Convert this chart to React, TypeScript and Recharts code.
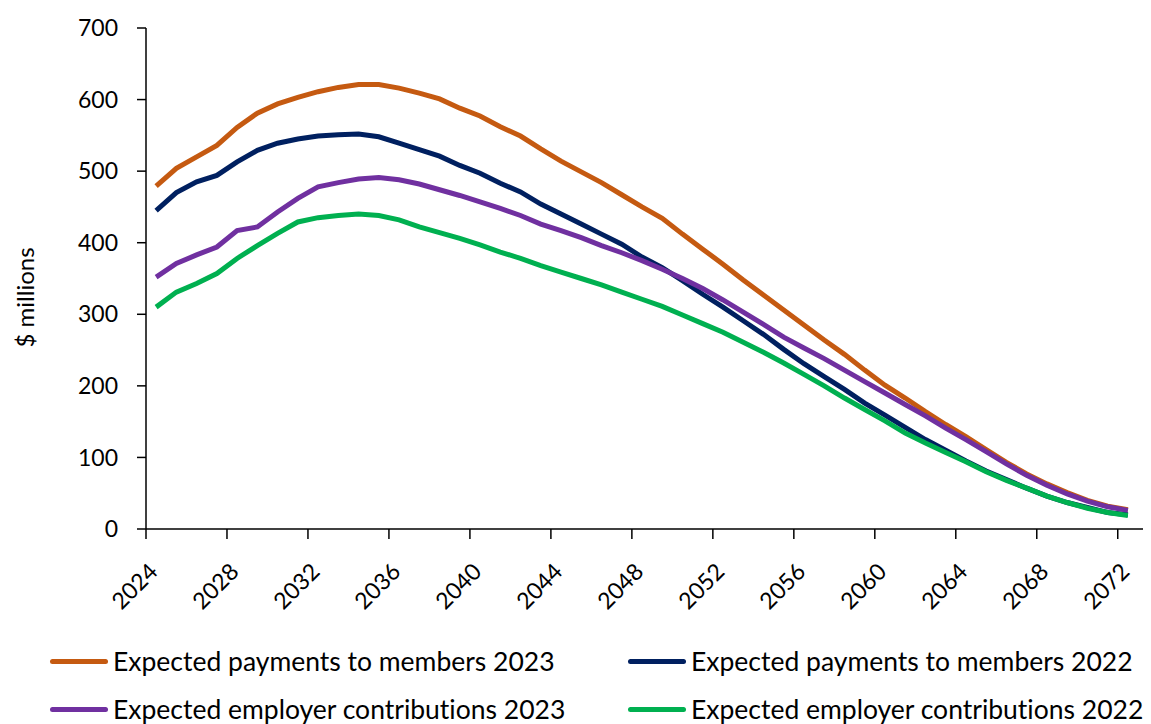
import { LineChart, Line, XAxis, YAxis, Legend } from "recharts";

const years = [
  2024, 2025, 2026, 2027, 2028, 2029, 2030, 2031, 2032, 2033, 2034, 2035, 2036,
  2037, 2038, 2039, 2040, 2041, 2042, 2043, 2044, 2045, 2046, 2047, 2048, 2049,
  2050, 2051, 2052, 2053, 2054, 2055, 2056, 2057, 2058, 2059, 2060, 2061, 2062,
  2063, 2064, 2065, 2066, 2067, 2068, 2069, 2070, 2071, 2072,
];

const payments2023 = [
  479, 504, 520, 536, 561, 581, 594, 603, 611, 617, 621, 621, 616, 609, 601, 588,
  577, 562, 549, 531, 514, 499, 484, 467, 450, 434, 412, 391, 370, 348, 327, 306,
  285, 264, 244, 222, 201, 183, 164, 146, 129, 111, 93, 77, 63, 51, 40, 32, 27,
];

const payments2022 = [
  445, 470, 485, 494, 513, 529, 539, 545, 549, 551, 552, 548, 539, 530, 521, 508,
  497, 483, 471, 454, 440, 426, 412, 398, 380, 365, 347, 328, 310, 291, 272, 251,
  231, 213, 195, 176, 159, 142, 125, 110, 95, 81, 69, 57, 46, 37, 30, 23, 20,
];

const contributions2023 = [
  352, 371, 383, 394, 417, 422, 443, 462, 478, 484, 489, 491, 488, 482, 474, 466,
  457, 448, 438, 426, 417, 407, 396, 386, 375, 363, 350, 336, 320, 303, 286, 268,
  253, 238, 222, 206, 190, 174, 158, 141, 125, 108, 91, 75, 61, 49, 39, 31, 26,
];

const contributions2022 = [
  310, 331, 343, 357, 378, 396, 413, 429, 435, 438, 440, 438, 432, 422, 414, 406,
  397, 387, 378, 368, 359, 350, 341, 331, 321, 311, 299, 287, 275, 261, 247, 232,
  216, 200, 183, 167, 151, 134, 120, 107, 94, 80, 68, 57, 46, 37, 29, 23, 19,
];

const yTicks = [0, 100, 200, 300, 400, 500, 600, 700];

const series = [
  { key: "pay23", name: "Expected payments to members 2023", color: "#C55A11", values: payments2023 },
  { key: "pay22", name: "Expected payments to members 2022", color: "#002060", values: payments2022 },
  { key: "con23", name: "Expected employer contributions 2023", color: "#7030A0", values: contributions2023 },
  { key: "con22", name: "Expected employer contributions 2022", color: "#00B050", values: contributions2022 },
];

const data = years.map((year, i) => {
  const row: any = { year: String(year) };
  series.forEach((s) => (row[s.key] = s.values[i]));
  return row;
});

const FONT = "Lato, 'Liberation Sans', sans-serif";
const W = 1143;
const H = 716;
const PAD_RIGHT = 13;
const BAND = (W - 138 - PAD_RIGHT) / years.length;

function XTick(props: any) {
  const { x, y, payload } = props;
  return (
    <g>
      <line x1={x - BAND / 2} y1={y} x2={x - BAND / 2} y2={y + 10} stroke="#000" strokeWidth={1.5} />
      <text
        transform={`translate(${x + 3},${y + 44}) rotate(-45)`}
        textAnchor="end"
        fontSize={23}
        fontFamily={FONT}
        fill="#000"
      >
        {payload.value}
      </text>
    </g>
  );
}

function LegendBox() {
  return (
    <div
      style={{
        position: "relative",
        height: 95,
        fontFamily: FONT,
        fontSize: 26.5,
        color: "#000",
        fontVariantLigatures: "none",
      }}
    >
      {series.map((s, i) => (
        <div
          key={s.key}
          style={{
            position: "absolute",
            left: i % 2 ? 620 : 42,
            top: i < 2 ? 8 : 56,
            height: 48,
            display: "flex",
            alignItems: "center",
            whiteSpace: "nowrap",
          }}
        >
          <span
            style={{
              display: "inline-block",
              width: 58,
              height: 5,
              borderRadius: 3,
              background: s.color,
              marginRight: 5,
            }}
          />
          <span>{s.name}</span>
        </div>
      ))}
    </div>
  );
}

function YLabel(props: any) {
  const { viewBox } = props;
  const cx = viewBox.x + 16;
  const cy = viewBox.y + viewBox.height / 2 + 19;
  return (
    <text
      x={cx}
      y={cy}
      transform={`rotate(-90, ${cx}, ${cy})`}
      textAnchor="middle"
      dominantBaseline="central"
      fontSize={24}
      fontFamily={FONT}
      fill="#000"
    >
      $ millions
    </text>
  );
}

export default function App() {
  return (
    <div style={{ width: W, height: H }}>
      <LineChart width={W} height={H} data={data} margin={{ top: 20, right: 0, bottom: 0, left: 0 }}>
        <XAxis
          dataKey="year"
          scale="band"
          interval={3}
          height={100}
          padding={{ left: 0, right: PAD_RIGHT }}
          tickLine={false}
          tickSize={0}
          tickMargin={0}
          tick={<XTick />}
          axisLine={{ stroke: "#000", strokeWidth: 1.5 }}
        />
        <YAxis
          width={138}
          domain={[0, 700]}
          ticks={yTicks}
          interval={0}
          tickSize={9}
          tickMargin={19}
          tickLine={{ stroke: "#000", strokeWidth: 1.5 }}
          axisLine={{ stroke: "#000", strokeWidth: 1.5 }}
          tick={{ fill: "#000", fontSize: 23, fontFamily: FONT }}
          label={<YLabel />}
        />
        <Legend verticalAlign="bottom" content={<LegendBox />} wrapperStyle={{ left: 0, width: W }} />
        {series.map((s) => (
          <Line
            key={s.key}
            dataKey={s.key}
            name={s.name}
            stroke={s.color}
            strokeWidth={5}
            dot={false}
            activeDot={false}
            isAnimationActive={false}
          />
        ))}
      </LineChart>
    </div>
  );
}
